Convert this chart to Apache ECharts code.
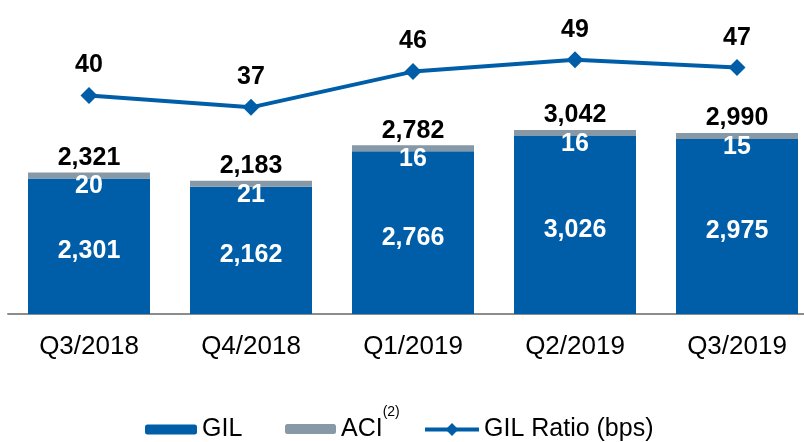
<!DOCTYPE html>
<html>
<head>
<meta charset="utf-8">
<script src="https://cdn.jsdelivr.net/npm/echarts@6/dist/echarts.min.js"></script>
<style>
html, body { margin: 0; padding: 0; background: #fff; overflow: hidden; }
#chart { width: 818px; height: 442px; }
</style>
</head>
<body>
<div id="chart"></div>
<script>
'use strict';
var categories = ['Q3/2018', 'Q4/2018', 'Q1/2019', 'Q2/2019', 'Q3/2019'];
var gil = [2301, 2162, 2766, 3026, 2975];
var aci = [20, 21, 16, 16, 15];
var totals = [2321, 2183, 2782, 3042, 2990];
var ratio = [40, 37, 46, 49, 47];

var blue = '#005EA8';
var grey = '#8799A6';
var font = 'Liberation Sans, Arial, sans-serif';

function fmt(v) {
	return Number(v).toLocaleString('en-US');
}

// canvas is 14px wider than the window so the last bar sits like the original
var myChart = echarts.init(document.getElementById('chart'));
var option = {
	animation: false,
	textStyle: {fontFamily: font},
	grid: {left: 8, right: 0, top: 8, bottom: 128},
	legend: [
		{
			data: ['GIL'], left: 140, top: 412,
			itemWidth: 52, itemHeight: 10, itemGap: 0,
			textStyle: {fontSize: 25, color: '#000', fontFamily: font}
		},
		{
			data: ['ACI'], left: 280, top: 400,
			itemWidth: 51, itemHeight: 10,
			formatter: function (name) { return name + '{sup|(2)}'; },
			textStyle: {
				fontSize: 25, color: '#000', fontFamily: font,
				rich: {sup: {fontSize: 14, color: '#000', fontFamily: font, padding: [0, 0, 34, 0]}}
			}
		},
		{
			data: ['GIL Ratio (bps)'], left: 418, top: 412,
			itemWidth: 54, itemHeight: 16,
			lineStyle: {width: 4},
			textStyle: {fontSize: 25, color: '#000', fontFamily: font}
		}
	],
	xAxis: {
		type: 'category',
		data: categories,
		axisTick: {show: false},
		axisLine: {lineStyle: {color: '#8c8c8c', width: 2}},
		axisLabel: {fontSize: 26, color: '#000', margin: 20, fontFamily: font}
	},
	yAxis: [
		{type: 'value', min: 0, max: 5200, show: false, splitLine: {show: false}},
		{type: 'value', min: -15, max: 62, show: false, splitLine: {show: false}}
	],
	series: [
		{
			name: 'GIL',
			type: 'bar',
			stack: 'loans',
			data: gil,
			barWidth: 122,
			itemStyle: {color: blue},
			label: {
				show: true, position: 'inside', offset: [0, 5], color: '#fff',
				fontSize: 25, fontWeight: 'bold', fontFamily: font,
				formatter: function (p) { return fmt(p.value); }
			}
		},
		{
			name: 'ACI',
			type: 'bar',
			stack: 'loans',
			data: aci,
			barWidth: 122,
			barMinHeight: 6,
			itemStyle: {color: grey},
			label: {
				show: true, position: 'top', distance: 2, color: '#000',
				fontSize: 25, fontWeight: 'bold', fontFamily: font,
				formatter: function (p) { return fmt(totals[p.dataIndex]); }
			}
		},
		{
			name: 'aciLabel',
			type: 'scatter',
			data: gil,
			symbolSize: 1,
			z: 10,
			itemStyle: {color: 'rgba(0,0,0,0)'},
			silent: true,
			label: {
				show: true, position: 'bottom', distance: -5, color: '#ffffff',
				textBorderWidth: 0, opacity: 1,
				fontSize: 25, fontWeight: 'bold', fontFamily: font,
				formatter: function (p) { return aci[p.dataIndex]; }
			}
		},
		{
			name: 'GIL Ratio (bps)',
			type: 'line',
			yAxisIndex: 1,
			data: ratio,
			symbol: 'diamond',
			symbolSize: 17,
			lineStyle: {color: blue, width: 4},
			itemStyle: {color: blue},
			label: {
				show: true, position: 'top', distance: 9, color: '#000',
				fontSize: 25, fontWeight: 'bold', fontFamily: font
			}
		}
	]
};
myChart.setOption(option);
</script>
</body>
</html>
